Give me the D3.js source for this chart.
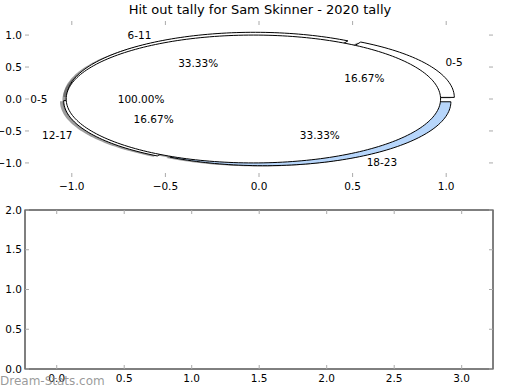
<!DOCTYPE html>
<html>
<head>
<meta charset="utf-8">
<script src="https://cdn.jsdelivr.net/npm/d3@7"></script>
<style>
  body { margin: 0; background: #fff; }
  text { font-family: "DejaVu Sans", sans-serif; }
</style>
</head>
<body>
<div id="chart"></div>
<script>
var svgWidth = 520;
var svgHeight = 390;

// pie data (two pies drawn in the same axes)
var ranges = ["0-5", "6-11", "12-17", "18-23"];
var counts = [1, 2, 1, 2];
var sliceColors = ["#ffffff", "#ffffff", "#ffffff", "#b7d6fb"];
var totalLabels = ["0-5"];
var totalCounts = [1];

// axis ticks
var pieTicks = [-1.0, -0.5, 0.0, 0.5, 1.0];
var lowerXTicks = [0.0, 0.5, 1.0, 1.5, 2.0, 2.5, 3.0];
var lowerYTicks = [0.0, 0.5, 1.0, 1.5, 2.0];

var svg = d3.select("#chart")
  .append("svg")
  .attr("width", svgWidth)
  .attr("height", svgHeight);

svg.append("text")
  .attr("x", 260)
  .attr("y", 14)
  .attr("text-anchor", "middle")
  .style("font-size", "13px")
  .text("Hit out tally for Sam Skinner - 2020 tally");

// ---- top axes: pie ----
var x = d3.scaleLinear().domain([-1.25, 1.25]).range([25, 493]);
var y = d3.scaleLinear().domain([-1.22, 1.22]).range([177, 21]);
var pieGroup = svg.append("g");

function wedgePath(cx, cy, a0, a1, full) {
  var n = Math.max(4, Math.ceil((a1 - a0) / (Math.PI / 120)));
  var pts = d3.range(n + 1).map(function(i) {
    var a = a0 + (a1 - a0) * i / n;
    return [x(cx + Math.cos(a)), y(cy + Math.sin(a))];
  });
  if (!full) pts.unshift([x(cx), y(cy)]);
  return d3.line()(pts) + "Z";
}

function buildWedges(values, labels, explode) {
  var arcs = d3.pie().sort(null).startAngle(0).endAngle(2 * Math.PI)(values);
  var total = d3.sum(values);
  return arcs.map(function(a, i) {
    var mid = (a.startAngle + a.endAngle) / 2;
    var cx = explode * Math.cos(mid), cy = explode * Math.sin(mid);
    return {
      a0: a.startAngle, a1: a.endAngle, mid: mid, cx: cx, cy: cy,
      full: values.length === 1,
      label: labels[i],
      pct: (100 * values[i] / total).toFixed(2) + "%"
    };
  });
}

var pieA = buildWedges(counts, ranges, 0.05);
var pieB = buildWedges(totalCounts, totalLabels, 0.03);

// shadows sit under every wedge
var shadowOff = -0.02;
pieA.concat(pieB).forEach(function(w) {
  pieGroup.append("path")
    .attr("d", wedgePath(w.cx + shadowOff, w.cy + shadowOff * 0.6, w.a0, w.a1, w.full))
    .attr("fill", "#4d4d4d")
    .attr("fill-opacity", 0.55);
});

pieA.forEach(function(w, i) {
  pieGroup.append("path")
    .attr("d", wedgePath(w.cx, w.cy, w.a0, w.a1, w.full))
    .attr("fill", sliceColors[i])
    .attr("stroke", "#000")
    .attr("stroke-width", 1)
    .attr("stroke-linejoin", "round");
});
pieB.forEach(function(w) {
  pieGroup.append("path")
    .attr("d", wedgePath(w.cx, w.cy, w.a0, w.a1, w.full))
    .attr("fill", "#ffffff")
    .attr("stroke", "#000")
    .attr("stroke-width", 1);
});

pieA.concat(pieB).forEach(function(w) {
  var lx = w.cx + 1.1 * Math.cos(w.mid);
  var ly = w.cy + 1.1 * Math.sin(w.mid);
  pieGroup.append("text")
    .attr("x", x(lx))
    .attr("y", y(ly))
    .attr("dy", "0.35em")
    .attr("text-anchor", lx > 0 ? "start" : "end")
    .style("font-size", "10.5px")
    .text(w.label);
  pieGroup.append("text")
    .attr("x", x(w.cx + 0.6 * Math.cos(w.mid)))
    .attr("y", y(w.cy + 0.6 * Math.sin(w.mid)))
    .attr("dy", "0.35em")
    .attr("text-anchor", "middle")
    .style("font-size", "10.5px")
    .text(w.pct);
});

function tickFmt(v) { return d3.format(".1f")(v).replace("-", "\u2212"); }

function drawTicks(g, xs, ys, xv, yv) {
  var x0 = xs.range()[0], x1 = xs.range()[1];
  var y0 = ys.range()[0], y1 = ys.range()[1];
  xv.forEach(function(v) {
    g.append("line").attr("x1", xs(v)).attr("x2", xs(v)).attr("y1", y0).attr("y2", y0 - 4)
      .attr("stroke", "#aaa");
    g.append("line").attr("x1", xs(v)).attr("x2", xs(v)).attr("y1", y1).attr("y2", y1 + 4)
      .attr("stroke", "#aaa");
    g.append("text").attr("x", xs(v)).attr("y", y0 + 13)
      .attr("text-anchor", "middle").style("font-size", "10.5px").text(tickFmt(v));
  });
  yv.forEach(function(v) {
    g.append("line").attr("x1", x0).attr("x2", x0 + 4).attr("y1", ys(v)).attr("y2", ys(v))
      .attr("stroke", "#aaa");
    g.append("line").attr("x1", x1).attr("x2", x1 - 4).attr("y1", ys(v)).attr("y2", ys(v))
      .attr("stroke", "#aaa");
    g.append("text").attr("x", x0 - 3).attr("y", ys(v)).attr("dy", "0.35em")
      .attr("text-anchor", "end").style("font-size", "10.5px").text(tickFmt(v));
  });
}

drawTicks(pieGroup, x, y, pieTicks, pieTicks);

// ---- bottom axes: empty ----
var x2 = d3.scaleLinear().domain([-0.235, 3.232]).range([25, 493]);
var y2 = d3.scaleLinear().domain([0, 2]).range([369, 210]);
var lowerGroup = svg.append("g");

lowerGroup.append("rect")
  .attr("x", 25).attr("y", 210)
  .attr("width", 468).attr("height", 159)
  .attr("fill", "none").attr("stroke", "#000").attr("stroke-width", 1);

drawTicks(lowerGroup, x2, y2, lowerXTicks, lowerYTicks);

svg.append("text")
  .attr("x", 0)
  .attr("y", 385)
  .style("font-size", "12px")
  .attr("fill", "#888")
  .attr("fill-opacity", 0.85)
  .text("Dream-Stats.com");
</script>
</body>
</html>
